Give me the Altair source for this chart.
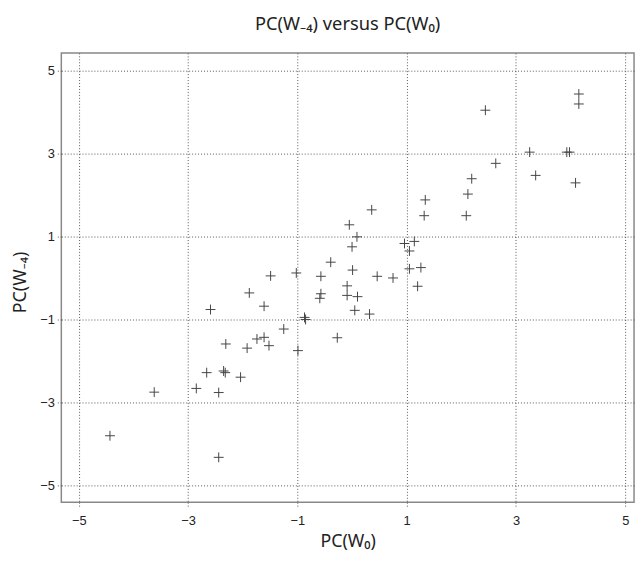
import altair as alt
import pandas as pd

pc_w0 = [-0.05, 0.00, -0.39, 0.01, -1.49, -1.02, -0.57, 4.15, 4.15, 2.44,
         3.25, 3.93, 3.98, 2.63, 3.36, 4.09, 2.19, 2.12, 1.34, 1.32,
         2.09, 0.36, 0.09, 0.96, 1.14, 1.05, 1.05, 1.26, 0.46, 0.75,
         1.20, -0.09, -0.09, 0.10, 0.05, 0.32, -0.27, -0.57, -0.59, -1.88,
         -2.59, -1.61, -0.87, -0.85, -1.25, -0.99, -1.74, -1.61, -1.52, -1.92,
         -2.31, -2.66, -2.35, -2.32, -2.04, -2.85, -2.44, -3.62, -4.43, -2.44]
pc_w4 = [1.28, 0.75, 0.38, 0.19, 0.05, 0.12, 0.04, 4.43, 4.19, 4.04,
         3.03, 3.03, 3.03, 2.76, 2.47, 2.29, 2.39, 2.02, 1.88, 1.50,
         1.50, 1.64, 0.99, 0.83, 0.88, 0.65, 0.22, 0.25, 0.04, 0.00,
         -0.20, -0.19, -0.42, -0.45, -0.78, -0.87, -1.44, -0.38, -0.49, -0.36,
         -0.76, -0.68, -0.95, -1.00, -1.23, -1.75, -1.47, -1.43, -1.63, -1.69,
         -1.59, -2.28, -2.24, -2.28, -2.39, -2.66, -2.76, -2.75, -3.80, -4.32]
tick_values = [-5, -3, -1, 1, 3, 5]

df = pd.DataFrame({"w0": pc_w0, "w4": pc_w4})

chart = alt.Chart(df).mark_point(
    shape="M-1,0L1,0M0,-1L0,1",
    filled=False,
    size=100,
    stroke="#444444",
    strokeWidth=1,
    opacity=1,
).encode(
    x=alt.X("w0:Q",
            scale=alt.Scale(domain=[-5.32, 5.16], nice=False, zero=False),
            axis=alt.Axis(values=tick_values, title="PC(W₀)",
                          titleY=40, titleBaseline="middle",
                          labelPadding=7, tickSize=6)),
    y=alt.Y("w4:Q",
            scale=alt.Scale(domain=[-5.40, 5.42], nice=False, zero=False),
            axis=alt.Axis(values=tick_values, title="PC(W₋₄)",
                          titleX=-41, titleY=232, titleBaseline="middle",
                          titleAlign="center", titleAngle=270,
                          labelPadding=1, tickSize=6)),
).properties(
    width=580,
    height=455,
    autosize=alt.AutoSizeParams(type="none"),
    padding={"left": 54, "top": 42, "right": 2, "bottom": 49},
    title=alt.TitleParams("PC(W₋₄) versus PC(W₀)", anchor="middle",
                          baseline="alphabetic", offset=5,
                          font="Noto Sans", fontSize=18.5,
                          fontWeight="normal", color="#222222"),
).configure_view(
    stroke="#888888", strokeWidth=1.5
).configure_axis(
    grid=True, gridColor="#555555", gridDash=[1, 2], gridWidth=1, gridOpacity=1,
    domain=False,
    ticks=True, tickColor="#555555", tickDash=[1, 2], tickWidth=1,
    labelFont="Liberation Sans", labelFontSize=13, labelColor="#222222",
    titleFont="Noto Sans", titleFontSize=18, titleFontWeight="normal",
    titleColor="#222222",
)

chart.save("out.html", embed_options={"renderer": "svg", "actions": False})
